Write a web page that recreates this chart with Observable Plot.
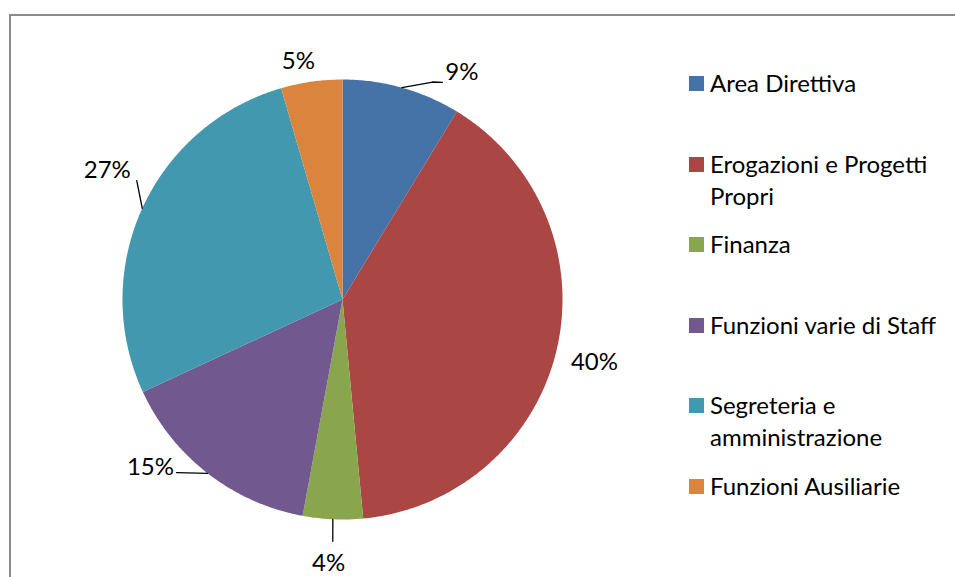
<!DOCTYPE html>
<html>
<head>
<meta charset="utf-8">
<script src="https://cdn.jsdelivr.net/npm/d3@7"></script>
<script src="https://cdn.jsdelivr.net/npm/@observablehq/plot@0.6"></script>
<style>
  html, body { margin: 0; padding: 0; background: #fff; overflow: hidden; }
  #wrap { position: relative; width: 955px; height: 577px; overflow: hidden; font-family: Lato, "Open Sans", sans-serif; }
  #frame { position: absolute; left: 9px; top: 14px; width: 1000px; height: 700px; border: 2px solid #8c8c8c; box-sizing: border-box; }
  #chart { position: absolute; left: 0; top: 0; }
  #legend { position: absolute; left: 689px; top: 0; }
  .item { position: absolute; left: 0; display: flex; align-items: flex-start; width: 266px; }
  .sw { width: 15px; height: 15px; margin-top: 9px; margin-right: 6px; flex: none; }
  .lab { font-size: 24px; line-height: 32px; color: #000; width: 244px; white-space: normal; }
</style>
</head>
<body>
<div id="wrap"><div id="frame"></div><div id="chart"></div><div id="legend"></div></div>
<script>
// ---- data ----
const categories = ["Area Direttiva", "Erogazioni e Progetti Propri", "Finanza", "Funzioni varie di Staff", "Segreteria e amministrazione", "Funzioni Ausiliarie"];
const shares = [8.7, 39.8, 4.4, 15.2, 27.4, 4.5];
const labels = ["9%", "40%", "4%", "15%", "27%", "5%"];
const colors = ["#4572A7", "#AA4643", "#89A54E", "#71588F", "#4198AF", "#DB843D"];

// ---- layout ----
const W = 955, H = 577, cx = 342, cy = 299, R = 220;
// label placement: angle offset from slice middle (deg), radius (in pie radii)
const labelAngleOffset = [12.1, 1, 0.5, 11, 4.3, -2.4];
const labelRadius = [1.165, 1.18, 1.2, 1.16, 1.22, 1.10];
// leader lines: extra polar points (deg, radius) after the arc point at slice middle; null = none
const leaderPts = [[[22.5, 1.07], [24.7, 1.086]], null, [[182.3, 1.1]], [[223.8, 1.09]], [[300, 1.08]], null];
const legendPitch = 80.5, legendFirst = 83;

const rad = d => d * Math.PI / 180;
const polar = (a, r) => ({x: r * Math.sin(a), y: -r * Math.cos(a)});

const arcs = d3.pie().sort(null).value(d => d)(shares);

// slice polygons
const slicePts = [];
arcs.forEach((a, i) => {
  slicePts.push({...polar(0, 0), k: categories[i]});
  const n = Math.max(2, Math.ceil((a.endAngle - a.startAngle) / rad(0.5)));
  for (let j = 0; j <= n; j++) {
    const t = a.startAngle + (a.endAngle - a.startAngle) * j / n;
    slicePts.push({...polar(t, 1), k: categories[i]});
  }
});

const labelData = arcs.map((a, i) => {
  const mid = (a.startAngle + a.endAngle) / 2 + rad(labelAngleOffset[i]);
  return {...polar(mid, labelRadius[i]), text: labels[i]};
});

const leaderData = [];
arcs.forEach((a, i) => {
  if (!leaderPts[i]) return;
  const mid = (a.startAngle + a.endAngle) / 2;
  leaderData.push({...polar(mid, 1), k: i});
  leaderPts[i].forEach(([ang, r]) => leaderData.push({...polar(rad(ang), r), k: i}));
});

const plot = Plot.plot({
  width: W, height: H,
  margin: 0,
  x: {domain: [-cx / R, (W - cx) / R], range: [0, W], axis: null},
  y: {domain: [-cy / R, (H - cy) / R], range: [0, H], axis: null},
  color: {domain: categories, range: colors},
  style: {background: "transparent", fontFamily: "Lato, 'Open Sans', sans-serif"},
  marks: [
    Plot.line(slicePts, {x: "x", y: "y", z: "k", fill: "k", stroke: "none", curve: "linear-closed"}),
    Plot.line(leaderData, {x: "x", y: "y", z: "k", stroke: "#000", strokeWidth: 1.3}),
    Plot.text(labelData, {x: "x", y: "y", text: "text", fontSize: 24, fill: "#000"})
  ]
});
document.getElementById("chart").appendChild(plot);

// legend
const legend = document.getElementById("legend");
categories.forEach((c, i) => {
  const item = document.createElement("div");
  item.className = "item";
  item.style.top = (legendFirst + legendPitch * i - 16) + "px";
  const sw = document.createElement("div");
  sw.className = "sw";
  sw.style.background = colors[i];
  const lab = document.createElement("div");
  lab.className = "lab";
  lab.textContent = c;
  item.appendChild(sw); item.appendChild(lab);
  legend.appendChild(item);
});
</script>
</body>
</html>
